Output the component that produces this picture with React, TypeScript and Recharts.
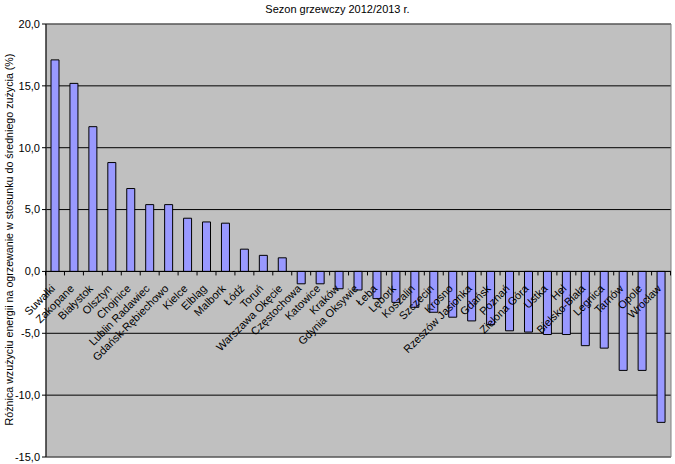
import { Bar, BarChart, CartesianGrid, LabelList, ReferenceArea, ReferenceLine, XAxis, YAxis } from 'recharts';

// Sezon grzewczy 2012/2013 – różnica zużycia energii względem średniej (%)
const CITIES = [
  'Suwałki', 'Zakopane', 'Białystok', 'Olsztyn', 'Chojnice', 'Lublin Radawiec',
  'Gdańsk-Rębiechowo', 'Kielce', 'Elbląg', 'Malbork', 'Łódź', 'Toruń',
  'Warszawa Okęcie', 'Częstochowa', 'Katowice', 'Kraków', 'Gdynia Oksywie', 'Łeba',
  'Lębork', 'Koszalin', 'Szczecin', 'Krosno', 'Rzeszów Jasionka', 'Gdańsk',
  'Poznań', 'Zielona Góra', 'Ustka', 'Hel', 'Bielsko-Biała', 'Legnica',
  'Tarnów', 'Opole', 'Wrocław',
];
const DIFF = [
  17.1, 15.2, 11.7, 8.8, 6.7, 5.4,
  5.4, 4.3, 4.0, 3.9, 1.8, 1.3,
  1.1, -1.0, -1.0, -1.4, -1.5, -2.2,
  -2.5, -2.9, -3.3, -3.7, -4.0, -4.3,
  -4.8, -4.9, -5.1, -5.1, -6.0, -6.2,
  -8.0, -8.0, -12.2,
];
const Y_TICKS = [-15, -10, -5, 0, 5, 10, 15, 20];

const TITLE = 'Sezon grzewczy 2012/2013 r.';
const Y_TITLE = 'Różnica wzużyciu energii na ogrzewanie w stosunku do średniego zużycia (%)';

const W = 675;
const H = 464;
const MARGIN = { top: 24, right: 4, bottom: 7, left: 0 };
const Y_AXIS_W = 46;
const FONT = '"Liberation Sans", Arial, sans-serif';

const data = CITIES.map((name, i) => ({ name, value: DIFF[i] }));

const fmt = (v: number) => v.toFixed(1).replace('.', ',');

// etykieta kategorii + kreska osi przy linii zera
function CityLabel(props: any) {
  const vb = props.viewBox ?? props;
  const { x, y, width, height } = vb;
  const idx = props.index as number;
  const v = DIFF[idx];
  const zy = v >= 0 ? Math.max(y, y + height) : Math.min(y, y + height);
  const cx = x + width / 2;
  const band = (W - Y_AXIS_W - MARGIN.right) / CITIES.length;
  const left = cx - band / 2;
  const ax = cx - 2;
  const ay = zy + 15;
  return (
    <g>
      <line x1={left} y1={zy} x2={left} y2={zy + 4} stroke="#000" />
      {idx === CITIES.length - 1 && (
        <line x1={left + band} y1={zy} x2={left + band} y2={zy + 4} stroke="#000" />
      )}
      <text
        x={ax}
        y={ay}
        transform={`rotate(-45 ${ax} ${ay})`}
        textAnchor="end"
        dominantBaseline="central"
        fontSize={11}
        fontFamily={FONT}
        fill="#000"
      >
        {CITIES[idx]}
      </text>
    </g>
  );
}

function YTitle(props: any) {
  const vb = props.viewBox;
  const x = vb.x + 13;
  const y = vb.y + vb.height / 2 - 1;
  return (
    <text
      x={x}
      y={y}
      transform={`rotate(-90 ${x} ${y})`}
      textAnchor="middle"
      fontSize={10.7}
      fontFamily={FONT}
      fill="#000"
    >
      {Y_TITLE}
    </text>
  );
}

export default function App() {
  return (
    <div style={{ position: 'absolute', left: 0, top: 0, width: W, height: H, background: '#fff', fontFamily: FONT }}>
      <div
        style={{
          position: 'absolute',
          left: 0,
          top: 3,
          width: W,
          textAlign: 'center',
          fontSize: 11,
          color: '#000',
        }}
      >
        {TITLE}
      </div>
      <BarChart width={W} height={H} data={data} margin={MARGIN}>
        <CartesianGrid vertical={false} stroke="#000" fill="#C0C0C0" />
        <XAxis dataKey="name" hide />
        <YAxis
          width={Y_AXIS_W}
          domain={[-15, 20]}
          ticks={Y_TICKS}
          interval={0}
          allowDataOverflow
          tickFormatter={fmt}
          tickSize={4}
          tickMargin={2}
          axisLine={{ stroke: '#000' }}
          tickLine={{ stroke: '#000' }}
          tick={{ fill: '#000', fontSize: 11, fontFamily: FONT }}
          label={{ content: YTitle }}
        />
        <ReferenceArea y1={-15} y2={20} fill="none" stroke="#808080" ifOverflow="visible" />
        <ReferenceLine y={0} stroke="#000" />
        <Bar dataKey="value" fill="#9999FF" stroke="#000" strokeWidth={1} barSize={8} isAnimationActive={false}>
          <LabelList dataKey="name" content={CityLabel} />
        </Bar>
      </BarChart>
    </div>
  );
}
